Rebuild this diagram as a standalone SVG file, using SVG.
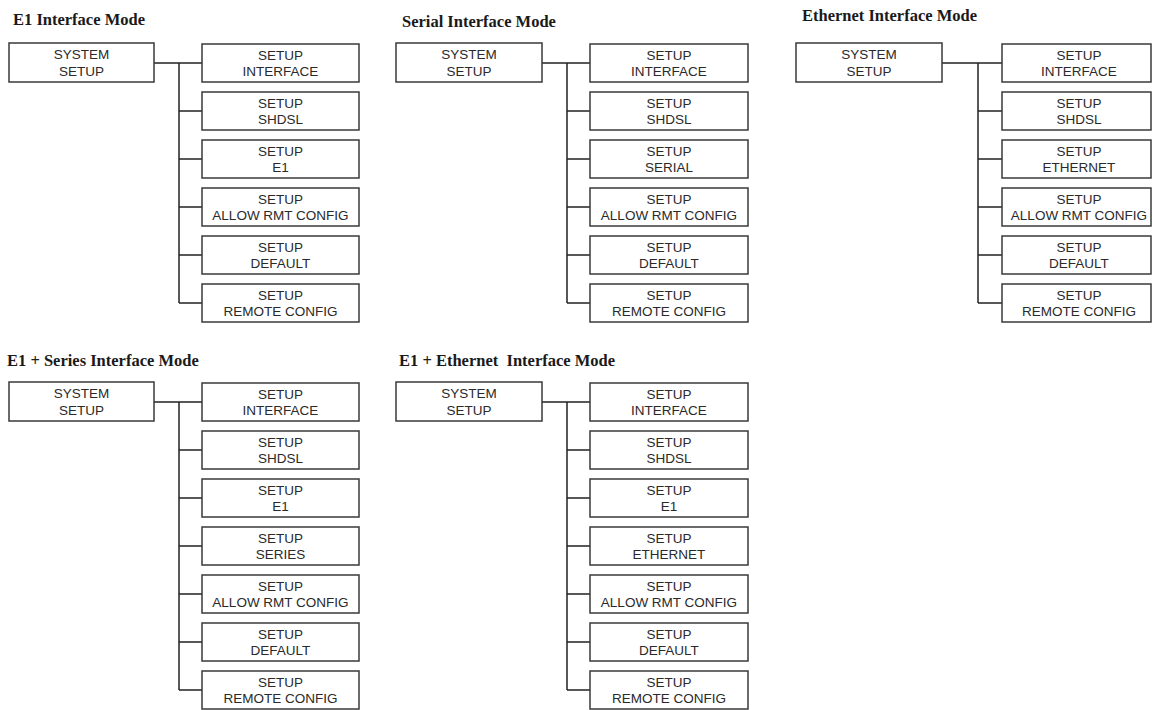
<svg xmlns="http://www.w3.org/2000/svg" width="1152" height="710" viewBox="0 0 1152 710">
<style>
.bg{fill:#fff}
.box{fill:#fff;stroke:#3a3a3a;stroke-width:1.5}
.t{font-family:"Liberation Sans",Arial,sans-serif;font-size:13.5px;fill:#2a2a2a;text-anchor:middle}
.title{font-family:"Liberation Serif","Times New Roman",serif;font-size:16.5px;font-weight:bold;fill:#1a1a1a}
.c{fill:none;stroke:#222;stroke-width:1.5}
</style>
<rect class="bg" x="0" y="0" width="1152" height="710"/>

<text class="title" x="13" y="25">E1 Interface Mode</text>
<text class="title" x="402" y="26.5">Serial Interface Mode</text>
<text class="title" x="802" y="20.5">Ethernet Interface Mode</text>
<text class="title" x="7" y="366">E1 + Series Interface Mode</text>
<text class="title" x="399" y="366" xml:space="preserve">E1 + Ethernet  Interface Mode</text>

<g id="connectors">
  <!-- Panel 1 -->
  <path class="c" d="M154,63H202 M179,63V303 M179,111H202 M179,159H202 M179,207H202 M179,255H202 M179,303H202"/>
  <!-- Panel 2 -->
  <path class="c" d="M542,63H590 M567,63V303 M567,111H590 M567,159H590 M567,207H590 M567,255H590 M567,303H590"/>
  <!-- Panel 3 -->
  <path class="c" d="M942,63H1002 M978,63V303 M978,111H1002 M978,159H1002 M978,207H1002 M978,255H1002 M978,303H1002"/>
  <!-- Panel 4 -->
  <path class="c" d="M154,402H202 M179,402V690 M179,450H202 M179,498H202 M179,546H202 M179,594H202 M179,642H202 M179,690H202"/>
  <!-- Panel 5 -->
  <path class="c" d="M542,402H590 M567,402V690 M567,450H590 M567,498H590 M567,546H590 M567,594H590 M567,642H590 M567,690H590"/>
</g>

<!-- Panel 1: E1 Interface Mode -->
<g id="p1-system"><rect class="box" x="9" y="43" width="145" height="39"/><text class="t" x="81.5" y="59">SYSTEM</text><text class="t" x="81.5" y="75.5">SETUP</text></g>
<g id="p1-interface"><rect class="box" x="202" y="44" width="157" height="38"/><text class="t" x="280.5" y="59.5">SETUP</text><text class="t" x="280.5" y="75.7">INTERFACE</text></g>
<g id="p1-shdsl"><rect class="box" x="202" y="92" width="157" height="38"/><text class="t" x="280.5" y="107.5">SETUP</text><text class="t" x="280.5" y="123.7">SHDSL</text></g>
<g id="p1-e1"><rect class="box" x="202" y="140" width="157" height="38"/><text class="t" x="280.5" y="155.5">SETUP</text><text class="t" x="280.5" y="171.7">E1</text></g>
<g id="p1-allow"><rect class="box" x="202" y="188" width="157" height="38"/><text class="t" x="280.5" y="203.5">SETUP</text><text class="t" x="280.5" y="219.7">ALLOW RMT CONFIG</text></g>
<g id="p1-default"><rect class="box" x="202" y="236" width="157" height="38"/><text class="t" x="280.5" y="251.5">SETUP</text><text class="t" x="280.5" y="267.7">DEFAULT</text></g>
<g id="p1-remote"><rect class="box" x="202" y="284" width="157" height="38"/><text class="t" x="280.5" y="299.5">SETUP</text><text class="t" x="280.5" y="315.7">REMOTE CONFIG</text></g>

<!-- Panel 2: Serial Interface Mode -->
<g id="p2-system"><rect class="box" x="396" y="43" width="146" height="39"/><text class="t" x="469" y="59">SYSTEM</text><text class="t" x="469" y="75.5">SETUP</text></g>
<g id="p2-interface"><rect class="box" x="590" y="44" width="158" height="38"/><text class="t" x="669" y="59.5">SETUP</text><text class="t" x="669" y="75.7">INTERFACE</text></g>
<g id="p2-shdsl"><rect class="box" x="590" y="92" width="158" height="38"/><text class="t" x="669" y="107.5">SETUP</text><text class="t" x="669" y="123.7">SHDSL</text></g>
<g id="p2-serial"><rect class="box" x="590" y="140" width="158" height="38"/><text class="t" x="669" y="155.5">SETUP</text><text class="t" x="669" y="171.7">SERIAL</text></g>
<g id="p2-allow"><rect class="box" x="590" y="188" width="158" height="38"/><text class="t" x="669" y="203.5">SETUP</text><text class="t" x="669" y="219.7">ALLOW RMT CONFIG</text></g>
<g id="p2-default"><rect class="box" x="590" y="236" width="158" height="38"/><text class="t" x="669" y="251.5">SETUP</text><text class="t" x="669" y="267.7">DEFAULT</text></g>
<g id="p2-remote"><rect class="box" x="590" y="284" width="158" height="38"/><text class="t" x="669" y="299.5">SETUP</text><text class="t" x="669" y="315.7">REMOTE CONFIG</text></g>

<!-- Panel 3: Ethernet Interface Mode -->
<g id="p3-system"><rect class="box" x="796" y="43" width="146" height="39"/><text class="t" x="869" y="59">SYSTEM</text><text class="t" x="869" y="75.5">SETUP</text></g>
<g id="p3-interface"><rect class="box" x="1002" y="44" width="149" height="38"/><text class="t" x="1079" y="59.5">SETUP</text><text class="t" x="1079" y="75.7">INTERFACE</text></g>
<g id="p3-shdsl"><rect class="box" x="1002" y="92" width="149" height="38"/><text class="t" x="1079" y="107.5">SETUP</text><text class="t" x="1079" y="123.7">SHDSL</text></g>
<g id="p3-ethernet"><rect class="box" x="1002" y="140" width="149" height="38"/><text class="t" x="1079" y="155.5">SETUP</text><text class="t" x="1079" y="171.7">ETHERNET</text></g>
<g id="p3-allow"><rect class="box" x="1002" y="188" width="149" height="38"/><text class="t" x="1079" y="203.5">SETUP</text><text class="t" x="1079" y="219.7">ALLOW RMT CONFIG</text></g>
<g id="p3-default"><rect class="box" x="1002" y="236" width="149" height="38"/><text class="t" x="1079" y="251.5">SETUP</text><text class="t" x="1079" y="267.7">DEFAULT</text></g>
<g id="p3-remote"><rect class="box" x="1002" y="284" width="149" height="38"/><text class="t" x="1079" y="299.5">SETUP</text><text class="t" x="1079" y="315.7">REMOTE CONFIG</text></g>

<!-- Panel 4: E1 + Series Interface Mode -->
<g id="p4-system"><rect class="box" x="9" y="382" width="145" height="39"/><text class="t" x="81.5" y="398">SYSTEM</text><text class="t" x="81.5" y="414.5">SETUP</text></g>
<g id="p4-interface"><rect class="box" x="202" y="383" width="157" height="38"/><text class="t" x="280.5" y="398.5">SETUP</text><text class="t" x="280.5" y="414.7">INTERFACE</text></g>
<g id="p4-shdsl"><rect class="box" x="202" y="431" width="157" height="38"/><text class="t" x="280.5" y="446.5">SETUP</text><text class="t" x="280.5" y="462.7">SHDSL</text></g>
<g id="p4-e1"><rect class="box" x="202" y="479" width="157" height="38"/><text class="t" x="280.5" y="494.5">SETUP</text><text class="t" x="280.5" y="510.7">E1</text></g>
<g id="p4-series"><rect class="box" x="202" y="527" width="157" height="38"/><text class="t" x="280.5" y="542.5">SETUP</text><text class="t" x="280.5" y="558.7">SERIES</text></g>
<g id="p4-allow"><rect class="box" x="202" y="575" width="157" height="38"/><text class="t" x="280.5" y="590.5">SETUP</text><text class="t" x="280.5" y="606.7">ALLOW RMT CONFIG</text></g>
<g id="p4-default"><rect class="box" x="202" y="623" width="157" height="38"/><text class="t" x="280.5" y="638.5">SETUP</text><text class="t" x="280.5" y="654.7">DEFAULT</text></g>
<g id="p4-remote"><rect class="box" x="202" y="671" width="157" height="38"/><text class="t" x="280.5" y="686.5">SETUP</text><text class="t" x="280.5" y="702.7">REMOTE CONFIG</text></g>

<!-- Panel 5: E1 + Ethernet Interface Mode -->
<g id="p5-system"><rect class="box" x="396" y="382" width="146" height="39"/><text class="t" x="469" y="398">SYSTEM</text><text class="t" x="469" y="414.5">SETUP</text></g>
<g id="p5-interface"><rect class="box" x="590" y="383" width="158" height="38"/><text class="t" x="669" y="398.5">SETUP</text><text class="t" x="669" y="414.7">INTERFACE</text></g>
<g id="p5-shdsl"><rect class="box" x="590" y="431" width="158" height="38"/><text class="t" x="669" y="446.5">SETUP</text><text class="t" x="669" y="462.7">SHDSL</text></g>
<g id="p5-e1"><rect class="box" x="590" y="479" width="158" height="38"/><text class="t" x="669" y="494.5">SETUP</text><text class="t" x="669" y="510.7">E1</text></g>
<g id="p5-ethernet"><rect class="box" x="590" y="527" width="158" height="38"/><text class="t" x="669" y="542.5">SETUP</text><text class="t" x="669" y="558.7">ETHERNET</text></g>
<g id="p5-allow"><rect class="box" x="590" y="575" width="158" height="38"/><text class="t" x="669" y="590.5">SETUP</text><text class="t" x="669" y="606.7">ALLOW RMT CONFIG</text></g>
<g id="p5-default"><rect class="box" x="590" y="623" width="158" height="38"/><text class="t" x="669" y="638.5">SETUP</text><text class="t" x="669" y="654.7">DEFAULT</text></g>
<g id="p5-remote"><rect class="box" x="590" y="671" width="158" height="38"/><text class="t" x="669" y="686.5">SETUP</text><text class="t" x="669" y="702.7">REMOTE CONFIG</text></g>
</svg>
